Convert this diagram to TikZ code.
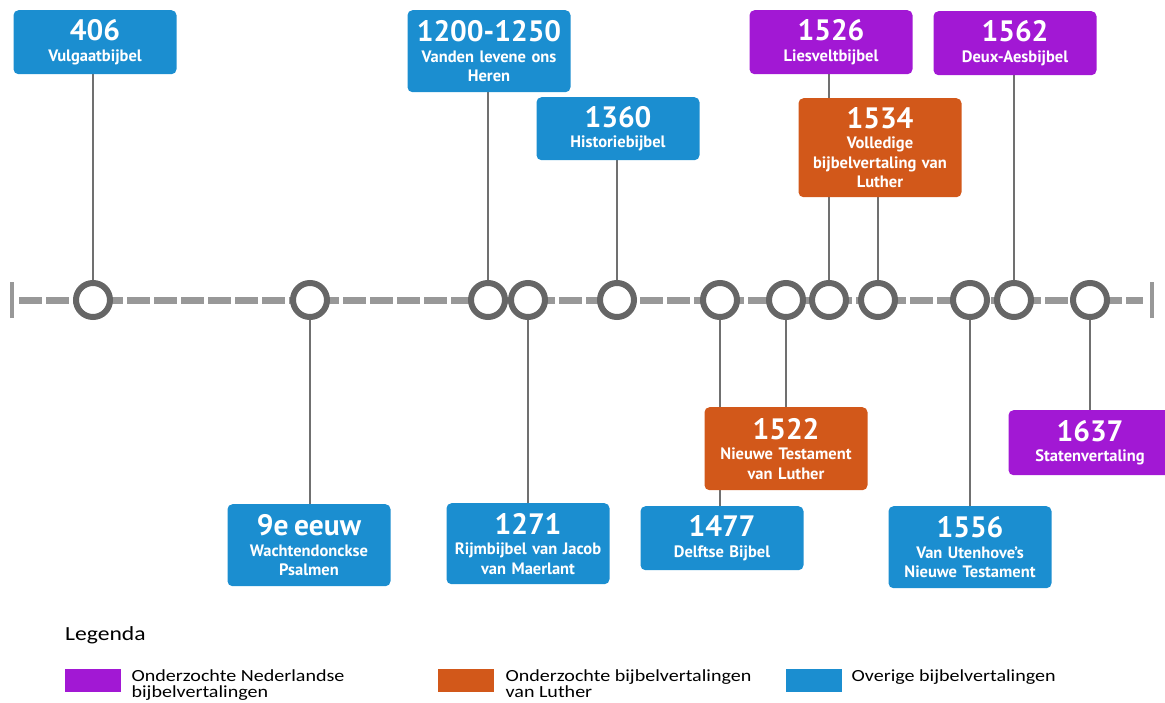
\documentclass[tikz,border=0pt]{standalone}
\usepackage{fontspec}
\setmainfont{PT Sans}
\newfontfamily\legendfont[FakeStretch=1.18]{Carlito}
\usepackage{tikz}
\usetikzlibrary{positioning, backgrounds}

\definecolor{tlBlue}{RGB}{27, 142, 208}
\definecolor{tlPurple}{RGB}{162, 24, 212}
\definecolor{tlOrange}{RGB}{210, 88, 26}
\definecolor{ringGray}{RGB}{102, 102, 102}
\definecolor{dashGray}{RGB}{152, 152, 152}
\definecolor{stemGray}{RGB}{112, 112, 112}

\newcommand{\evt}[2]{{\fontsize{29.5}{30}\selectfont #1}\\[1pt]#2}

\begin{document}
\begin{tikzpicture}[
    x=1pt, y=-1pt,
    event/.style={rectangle, rounded corners=5pt, text=white, anchor=north,
                  minimum width=163pt, text width=159pt, align=center,
                  inner sep=2pt, font=\bfseries\fontsize{16.5}{19.5}\selectfont},
    otherEvt/.style={event, fill=tlBlue},
    dutchEvt/.style={event, fill=tlPurple},
    lutherEvt/.style={event, fill=tlOrange},
    dot/.style={circle, draw=ringGray, line width=6pt, fill=white,
                minimum size=34pt, inner sep=0pt},
    stem/.style={draw=stemGray, line width=1.5pt},
    timeline/.style={dashGray, line width=7pt, dash pattern=on 23pt off 4pt},
    endbar/.style={dashGray, line width=3.5pt},
    swatch/.style={rectangle, minimum width=56pt, minimum height=23pt,
                   inner sep=0pt, anchor=north west},
    legtext/.style={font=\legendfont\fontsize{17}{16}\selectfont,
                    anchor=north west, inner sep=0pt, align=left},
  ]
    \useasboundingbox (0,0) rectangle (1165,702);

    % Time axis
    \coordinate (tlStart) at (12,300);
    \coordinate (tlEnd) at (1152,300);
    \node[dot] (c406) at (93,300) {};
    \node[dot] (c9e) at (310,300) {};
    \node[dot] (c1200) at (488,300) {};
    \node[dot] (c1271) at (528,300) {};
    \node[dot] (c1360) at (617,300) {};
    \node[dot] (c1477) at (720,300) {};
    \node[dot] (c1522) at (786,300) {};
    \node[dot] (c1526) at (829,300) {};
    \node[dot] (c1534) at (878,300) {};
    \node[dot] (c1556) at (970,300) {};
    \node[dot] (c1562) at (1014,300) {};
    \node[dot] (c1637) at (1090,300) {};

    % Above the axis
    \node[otherEvt, minimum height=64pt] (b406) at (95,10) {\evt{406}{Vulgaatbijbel}};
    \node[otherEvt, minimum height=82pt] (b1200) at (489,10) {\evt{1200-1250}{Vanden levene ons\\Heren}};
    \node[otherEvt, minimum height=63pt] (b1360) at (618,97) {\evt{1360}{Historiebijbel}};
    \node[dutchEvt, minimum height=64pt] (b1526) at (831,10) {\evt{1526}{Liesveltbijbel}};
    \node[lutherEvt, minimum height=99pt] (b1534) at (880,98) {\evt{1534}{Volledige\\bijbelvertaling van\\Luther}};
    \node[dutchEvt, minimum height=64pt] (b1562) at (1015,11) {\evt{1562}{Deux-Aesbijbel}};

    % Below the axis
    \node[otherEvt, minimum height=82pt] (b9e) at (309,504) {\evt{9e eeuw}{Wachtendonckse\\Psalmen}};
    \node[otherEvt, minimum height=81pt] (b1271) at (528,503) {\evt{1271}{Rijmbijbel van Jacob\\van Maerlant}};
    \node[lutherEvt, minimum height=83pt] (b1522) at (786,407) {\evt{1522}{Nieuwe Testament\\van Luther}};
    \node[otherEvt, minimum height=64pt] (b1477) at (722,506) {\evt{1477}{Delftse Bijbel}};
    \node[otherEvt, minimum height=82pt] (b1556) at (970,506) {\evt{1556}{Van Utenhove's\\Nieuwe Testament}};
    \node[dutchEvt, minimum height=65pt] (b1637) at (1090,410) {\evt{1637}{Statenvertaling}};

    \begin{scope}[on background layer]
      \draw[timeline] ([xshift=7pt]tlStart) -- ([xshift=-9pt]tlEnd);
      \draw[endbar] ([yshift=-18pt]tlStart) -- ([yshift=18pt]tlStart);
      \draw[endbar] ([yshift=-18pt]tlEnd) -- ([yshift=18pt]tlEnd);
      \draw[stem] (c406) -- (c406 |- b406.south);
      \draw[stem] (c1200) -- (c1200 |- b1200.south);
      \draw[stem] (c1360) -- (c1360 |- b1360.south);
      \draw[stem] (c1526) -- (c1526 |- b1526.south);
      \draw[stem] (c1534) -- (c1534 |- b1534.south);
      \draw[stem] (c1562) -- (c1562 |- b1562.south);
      \draw[stem] (c9e) -- (c9e |- b9e.north);
      \draw[stem] (c1271) -- (c1271 |- b1271.north);
      \draw[stem] (c1477) -- (c1477 |- b1477.north);
      \draw[stem] (c1522) -- (c1522 |- b1522.north);
      \draw[stem] (c1556) -- (c1556 |- b1556.north);
      \draw[stem] (c1637) -- (c1637 |- b1637.north);
    \end{scope}

    % Legend
    \node[anchor=west, inner sep=0pt, font=\legendfont\fontsize{20}{22}\selectfont] (legTitle) at (65,635) {Legenda};
    \node[swatch, fill=tlPurple] (swDutch) at (65,669) {};
    \node[legtext] (lgDutch) at ([xshift=10pt]swDutch.north east) {Onderzochte Nederlandse\\bijbelvertalingen};
    \node[swatch, fill=tlOrange] (swLuther) at (438,669) {};
    \node[legtext] (lgLuther) at ([xshift=11pt]swLuther.north east) {Onderzochte bijbelvertalingen\\van Luther};
    \node[swatch, fill=tlBlue] (swOther) at (786,669) {};
    \node[legtext] (lgOther) at ([xshift=9pt]swOther.north east) {Overige bijbelvertalingen};
  \end{tikzpicture}
\end{document}
